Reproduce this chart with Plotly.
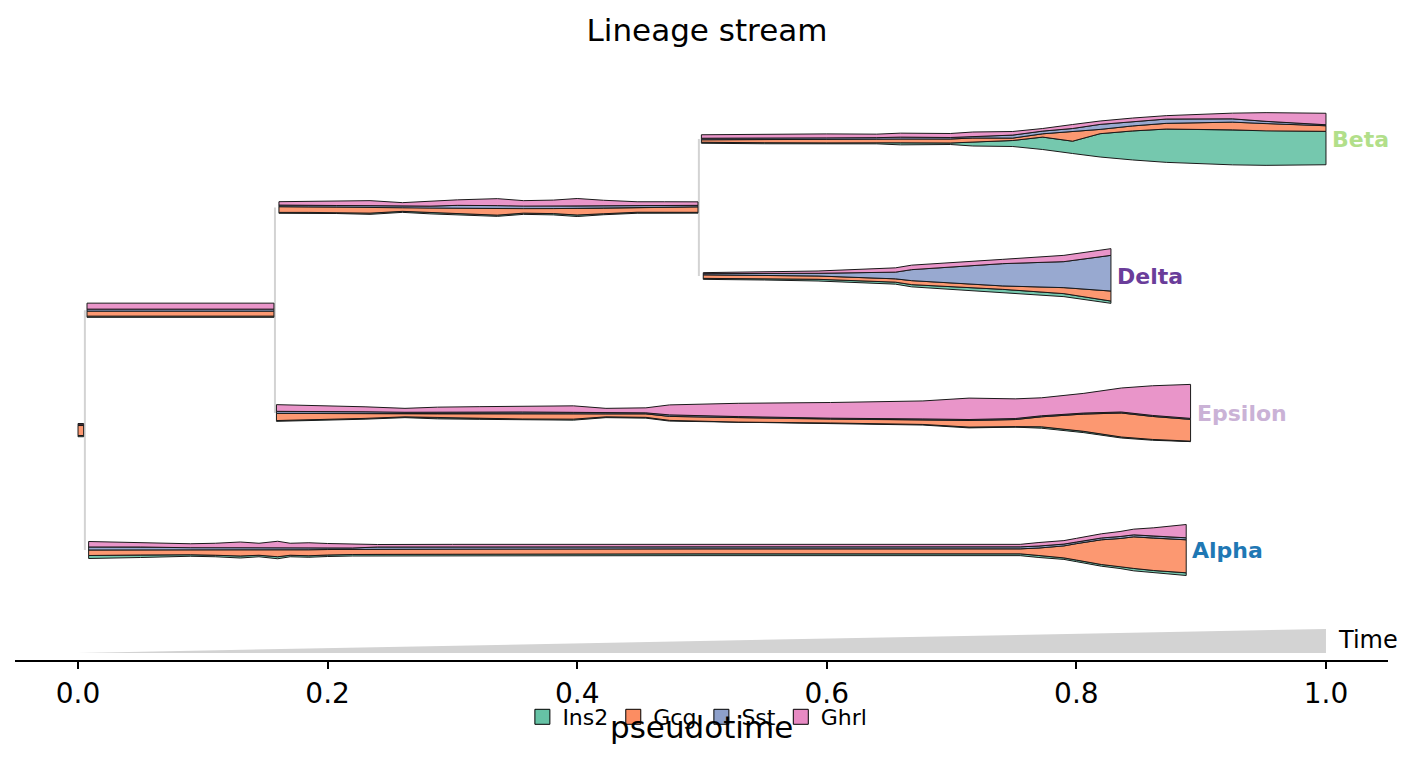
import plotly.graph_objects as go

# ---------------- data ----------------
GENES = ["Ins2", "Gcg", "Sst", "Ghrl"]
GENE_COLORS = ["#66c2a5", "#fc8d62", "#8da0cb", "#e78ac3"]

LEAVES = ["Alpha", "Epsilon", "Delta", "Beta"]          # bottom -> top
LEAF_COLORS = ["#1f78b4", "#cab2d6", "#6a3d9a", "#b2df8a"]
CHILDREN = {"root": ["A", "Alpha"], "A": ["B", "Epsilon"], "B": ["Beta", "Delta"]}
BRANCH_T = {"root": 0.0055, "A": 0.1578, "B": 0.4975}

X_TICKS = [0.0, 0.2, 0.4, 0.6, 0.8, 1.0]
X_TICK_TEXT = ["0.0", "0.2", "0.4", "0.6", "0.8", "1.0"]

ROOT_T = [0.0, 0.0045]
ROOT_INS2 = [1.2, 1.2]
ROOT_GCG = [10.0, 10.0]
ROOT_SST = [0.8, 0.8]
ROOT_GHRL = [1.2, 1.2]

A_T = [0.0072, 0.08, 0.157]
A_INS2 = [1.2, 1.2, 1.2]
A_GCG = [5.0, 5.0, 5.0]
A_SST = [2.0, 2.0, 2.0]
A_GHRL = [6.0, 5.5, 6.0]

ALPHA_T = [0.0085, 0.05, 0.09, 0.11, 0.13, 0.145, 0.16, 0.17, 0.185, 0.2, 0.22, 0.24,
           0.3, 0.5, 0.755, 0.77, 0.79, 0.80, 0.82, 0.835, 0.846, 0.862, 0.875, 0.888]
ALPHA_INS2 = [3.0, 2.5, 1.5, 1.5, 2.0, 1.5, 2.0, 1.5, 1.5, 1.5, 1.5, 1.5,
              1.8, 1.8, 1.8, 2.0, 1.5, 1.6, 1.7, 2.0, 2.4, 1.7, 2.3, 2.7]
ALPHA_GCG = [5.5, 5.5, 5.0, 5.5, 6.5, 5.5, 7.0, 5.5, 6.0, 5.5, 5.0, 5.0,
             5.0, 5.0, 5.0, 7.5, 12.0, 16.4, 24.7, 28.0, 31.6, 32.3, 33.0, 33.0]
ALPHA_SST = [3.0, 2.5, 2.0, 2.0, 2.0, 2.0, 2.5, 2.0, 2.0, 1.5, 1.5, 2.0,
             2.0, 2.0, 2.0, 2.0, 1.8, 1.6, 1.8, 2.0, 2.0, 2.0, 2.0, 2.0]
ALPHA_GHRL = [5.5, 4.5, 4.0, 4.5, 5.5, 4.5, 6.0, 4.5, 5.0, 4.5, 4.0, 2.5,
              2.5, 2.5, 2.5, 3.5, 3.5, 3.7, 4.2, 5.0, 5.7, 8.4, 11.0, 13.3]

B_T = [0.161, 0.185, 0.207, 0.234, 0.26, 0.282, 0.304, 0.336, 0.357, 0.381, 0.4,
       0.421, 0.448, 0.47, 0.4968]
B_INS2 = [0.9, 1.0, 1.0, 1.2, 1.0, 1.2, 1.3, 1.2, 1.2, 1.3, 1.5, 1.0, 1.0, 0.9, 0.8]
B_GCG = [5.7, 5.5, 5.5, 6.0, 3.5, 4.5, 5.5, 6.5, 4.5, 5.0, 6.5, 5.5, 4.5, 5.0, 5.5]
B_SST = [1.6, 1.5, 1.5, 1.5, 2.2, 2.0, 3.0, 3.0, 2.5, 2.5, 2.5, 2.5, 2.0, 1.8, 1.5]
B_GHRL = [3.4, 3.8, 4.0, 5.0, 3.0, 5.0, 5.5, 7.0, 5.5, 6.0, 7.5, 5.5, 4.0, 3.8, 3.5]

EPS_T = [0.159, 0.194, 0.23, 0.262, 0.288, 0.322, 0.356, 0.397, 0.423, 0.455, 0.474,
         0.529, 0.603, 0.677, 0.714, 0.751, 0.772, 0.806, 0.836, 0.861, 0.8915]
EPS_INS2 = [0.8, 0.8, 0.8, 0.8, 0.9, 0.9, 1.0, 1.0, 0.8, 0.8, 0.7,
            0.6, 0.5, 0.6, 0.8, 0.6, 1.4, 1.3, 1.0, 0.8, 0.5]
EPS_GCG = [7.2, 6.4, 5.0, 3.0, 4.0, 4.3, 5.0, 5.3, 3.0, 3.5, 4.0,
           4.5, 3.8, 4.5, 6.6, 7.0, 10.0, 17.3, 24.0, 23.0, 21.7]
EPS_SST = [2.0, 1.8, 1.6, 1.5, 1.8, 2.0, 2.0, 1.5, 1.0, 1.0, 1.5,
           1.0, 1.0, 1.0, 1.0, 1.0, 1.0, 1.0, 1.0, 1.0, 1.0]
EPS_GHRL = [6.7, 6.0, 5.0, 4.0, 5.0, 5.5, 6.0, 6.5, 4.5, 5.0, 10.0,
            13.3, 15.7, 18.0, 21.4, 19.7, 18.0, 19.7, 24.0, 29.7, 34.0]

BETA_T = [0.4995, 0.55, 0.6, 0.64, 0.659, 0.699, 0.717, 0.749, 0.773, 0.797, 0.819,
          0.845, 0.872, 0.925, 0.952, 1.0]
BETA_INS2 = [1.0, 1.0, 1.2, 1.2, 2.0, 1.5, 4.0, 6.0, 12.4, 12.3, 23.3, 29.0, 33.3, 35.0, 34.4, 33.4]
BETA_GCG = [2.5, 3.0, 3.5, 3.5, 4.0, 4.0, 4.0, 2.4, 3.3, 9.4, 4.3, 5.0, 5.7, 7.7, 7.3, 5.6]
BETA_SST = [1.5, 1.5, 1.5, 1.5, 1.7, 1.5, 1.5, 3.0, 2.7, 3.3, 5.0, 4.5, 4.3, 3.3, 2.3, 1.0]
BETA_GHRL = [3.5, 4.0, 4.0, 3.5, 4.0, 4.0, 4.5, 3.6, 2.6, 4.0, 3.4, 3.4, 3.4, 5.7, 8.7, 11.5]

DELTA_T = [0.501, 0.55, 0.593, 0.655, 0.668, 0.741, 0.79, 0.8277]
DELTA_INS2 = [1.0, 1.2, 1.7, 2.0, 2.2, 3.3, 3.0, 2.3]
DELTA_GCG = [3.5, 3.3, 3.3, 3.3, 4.0, 3.4, 6.0, 10.0]
DELTA_SST = [1.2, 2.0, 2.7, 6.7, 11.0, 22.3, 26.0, 35.7]
DELTA_GHRL = [1.0, 1.5, 2.3, 4.3, 4.5, 4.3, 6.3, 6.7]

SEGMENTS = {
    "root": (ROOT_T, [ROOT_INS2, ROOT_GCG, ROOT_SST, ROOT_GHRL]),
    "A": (A_T, [A_INS2, A_GCG, A_SST, A_GHRL]),
    "Alpha": (ALPHA_T, [ALPHA_INS2, ALPHA_GCG, ALPHA_SST, ALPHA_GHRL]),
    "B": (B_T, [B_INS2, B_GCG, B_SST, B_GHRL]),
    "Epsilon": (EPS_T, [EPS_INS2, EPS_GCG, EPS_SST, EPS_GHRL]),
    "Beta": (BETA_T, [BETA_INS2, BETA_GCG, BETA_SST, BETA_GHRL]),
    "Delta": (DELTA_T, [DELTA_INS2, DELTA_GCG, DELTA_SST, DELTA_GHRL]),
}

# ---------------- layout helpers ----------------
LEAF_SPACING = 137.0
Y_RANGE = [-110, 490]
X_RANGE = [-0.0505, 1.0497]

ypos = {leaf: i * LEAF_SPACING for i, leaf in enumerate(LEAVES)}


def node_y(name):
    if name in ypos:
        return ypos[name]
    kids = CHILDREN[name]
    ypos[name] = sum(node_y(k) for k in kids) / len(kids)
    return ypos[name]


node_y("root")


def rgba(hexc, a):
    h = hexc.lstrip("#")
    return "rgba(%d,%d,%d,%.2f)" % (int(h[0:2], 16), int(h[2:4], 16), int(h[4:6], 16), a)


fig = go.Figure()
shapes = []

# connectors
for parent, kids in CHILDREN.items():
    ys = [ypos[k] for k in kids]
    shapes.append(dict(type="line", xref="x", yref="y", x0=BRANCH_T[parent], x1=BRANCH_T[parent],
                       y0=min(ys), y1=max(ys), line=dict(color="#d3d3d3", width=2), layer="below"))

# time wedge
WEDGE_BASE = -103
WEDGE_H = 24
shapes.append(dict(type="path", xref="x", yref="y",
                   path="M 0 %g L 1 %g L 1 %g Z" % (WEDGE_BASE, WEDGE_BASE + WEDGE_H, WEDGE_BASE),
                   fillcolor="#d3d3d3", line=dict(width=0), layer="below"))

# streams
for seg, (ts, widths) in SEGMENTS.items():
    yc = ypos[seg]
    totals = [sum(w[i] for w in widths) for i in range(len(ts))]
    lower = [yc - tot / 2.0 for tot in totals]
    for g, (gene, color) in enumerate(zip(GENES, GENE_COLORS)):
        upper = [lower[i] + widths[g][i] for i in range(len(ts))]
        xs = list(ts) + list(ts[::-1]) + [ts[0]]
        ys = upper + lower[::-1] + [upper[0]]
        fig.add_trace(go.Scatter(
            x=xs, y=ys, mode="lines", fill="toself",
            fillcolor=rgba(color, 0.9), line=dict(color="#1a1a1a", width=1),
            name=gene, showlegend=False, hoverinfo="skip"))
        lower = upper

# legend entries (patches)
for g, (gene, color) in enumerate(zip(GENES, GENE_COLORS)):
    fig.add_trace(go.Scatter(
        x=[None], y=[None], mode="markers", name=gene, legendrank=g + 1,
        marker=dict(symbol="square", size=15, color=color, line=dict(color="black", width=1))))

annotations = []
for leaf, col in zip(LEAVES, LEAF_COLORS):
    ts = SEGMENTS[leaf][0]
    annotations.append(dict(x=ts[-1], y=ypos[leaf], xref="x", yref="y", text="<b>%s</b>" % leaf,
                            showarrow=False, xanchor="left", yanchor="middle", xshift=4,
                            font=dict(size=22, color=col, family="DejaVu Sans")))

annotations.append(dict(x=1.0, y=WEDGE_BASE + WEDGE_H / 2 + 1, xref="x", yref="y", text="Time",
                        showarrow=False, xanchor="left", yanchor="middle", xshift=10,
                        font=dict(size=24, color="black", family="DejaVu Sans")))
annotations.append(dict(x=0.5, y=-0.112, xref="paper", yref="paper", text="pseudotime",
                        showarrow=False, xanchor="center", yanchor="middle",
                        font=dict(size=31, color="black", family="DejaVu Sans")))

fig.update_layout(
    width=1414, height=758,
    margin=dict(l=15, r=26, t=60, b=98),
    plot_bgcolor="white", paper_bgcolor="white",
    font=dict(family="DejaVu Sans", color="black"),
    title=dict(text="Lineage stream", x=0.5, xanchor="center", y=1 - 30 / 758, yanchor="middle",
               font=dict(size=31, color="black", family="DejaVu Sans")),
    xaxis=dict(range=X_RANGE, showgrid=False, zeroline=False, showline=True, linecolor="black",
               linewidth=2, ticks="outside", ticklen=7, tickwidth=2, tickcolor="black",
               tickvals=X_TICKS, ticktext=X_TICK_TEXT, tickfont=dict(size=28, color="black")),
    yaxis=dict(range=Y_RANGE, visible=False, showgrid=False, zeroline=False),
    legend=dict(orientation="h", x=0.497, xanchor="center", y=-0.095, yanchor="middle",
                font=dict(size=22, color="black"), bgcolor="rgba(0,0,0,0)",
                itemwidth=30, tracegroupgap=0),
    shapes=shapes,
    annotations=annotations,
    showlegend=True,
)

fig.write_html("out.html", config={"displayModeBar": False},
               post_script="document.body.style.margin='0';")
